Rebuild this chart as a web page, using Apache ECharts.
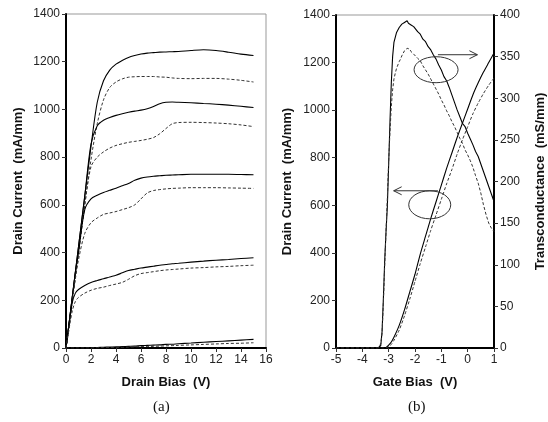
<!DOCTYPE html>
<html>
<head>
<meta charset="utf-8">
<script src="https://cdn.jsdelivr.net/npm/echarts@6.0.0/dist/echarts.min.js"></script>
<style>
  html, body { margin: 0; padding: 0; background: #fff; }
  #chart { width: 548px; height: 422px; }
</style>
</head>
<body>
<div id="chart"></div>
<script>
// ---- panel (a): drain current vs drain bias ----
var drainBias = [0, 0.25, 0.5, 0.75, 1, 1.5, 2, 2.5, 3, 3.5, 4, 4.5, 5, 5.5, 6, 6.5, 7, 7.5, 8, 8.5, 9, 10, 11, 12, 13, 14, 15];

var idA1Solid  = [0, 106, 212, 318, 424, 636, 845, 1030, 1120, 1165, 1190, 1205, 1218, 1226, 1232, 1236, 1238, 1240, 1241, 1242, 1243, 1247, 1250, 1247, 1240, 1232, 1226];
var idA1Dashed = [0, 100, 200, 300, 400, 600, 790, 940, 1040, 1092, 1115, 1128, 1135, 1137, 1138, 1138, 1138, 1136, 1135, 1132, 1130, 1129, 1130, 1130, 1127, 1122, 1115];
var idA2Solid  = [0, 106, 212, 318, 424, 636, 855, 932, 955, 966, 975, 982, 988, 993, 997, 1003, 1012, 1024, 1030, 1031, 1030, 1028, 1025, 1022, 1018, 1013, 1008];
var idA2Dashed = [0, 100, 200, 300, 400, 600, 760, 800, 822, 838, 849, 856, 862, 866, 870, 875, 882, 898, 920, 940, 945, 946, 945, 943, 940, 935, 928];
var idA3Solid  = [0, 105, 210, 315, 400, 580, 625, 640, 652, 661, 670, 680, 690, 703, 712, 717, 720, 722, 724, 725, 726, 728, 728, 728, 728, 727, 726];
var idA3Dashed = [0, 100, 195, 290, 370, 480, 525, 545, 560, 566, 572, 580, 588, 600, 625, 650, 660, 664, 667, 669, 670, 672, 672, 672, 671, 670, 669];
var idA4Solid  = [0, 100, 190, 230, 245, 262, 275, 283, 290, 298, 305, 315, 325, 330, 335, 339, 343, 347, 350, 353, 355, 360, 364, 368, 371, 375, 378];
var idA4Dashed = [0, 80, 155, 195, 212, 230, 242, 250, 255, 262, 268, 275, 288, 303, 312, 316, 320, 324, 327, 329, 331, 335, 337, 340, 342, 345, 347];
var idA5Solid  = [0, 0, 0, 0, 0, 0, 1, 2, 3, 4, 5, 6, 7, 8, 10, 11, 12, 13, 15, 16, 18, 21, 24, 27, 30, 33, 36];
var idA5Dashed = [0, 0, 0, 0, 0, 0, 0, 1, 2, 2, 3, 3, 4, 5, 6, 6, 7, 8, 9, 10, 11, 13, 15, 17, 19, 20, 22];

// ---- panel (b): drain current and transconductance vs gate bias ----
var gateBiasId = [-5, -3.2, -3.1, -3.0, -2.9, -2.8, -2.6, -2.4, -2.2, -2.0, -1.8, -1.6, -1.4, -1.2, -1.0, -0.8, -0.6, -0.4, -0.2, 0, 0.2, 0.4, 0.6, 0.8, 1.0];
var idBSolid  = [0, 0, 2, 12, 25, 45, 95, 160, 235, 310, 395, 470, 545, 615, 685, 755, 820, 885, 945, 1005, 1065, 1115, 1160, 1200, 1240];
var idBDashed = [0, 0, 0, 5, 15, 32, 75, 135, 205, 280, 355, 425, 495, 560, 625, 690, 750, 815, 875, 930, 985, 1030, 1070, 1105, 1135];

var gateBiasGm = [-5, -3.4, -3.3, -3.25, -3.2, -3.15, -3.1, -3.05, -3.0, -2.95, -2.9, -2.85, -2.8, -2.75, -2.7, -2.65, -2.6, -2.55, -2.5, -2.45,
  -2.4, -2.35, -2.3, -2.25, -2.2, -2.15, -2.1, -2.05, -2.0, -1.9, -1.8, -1.7, -1.6, -1.5, -1.4, -1.3, -1.2, -1.1, -1.0, -0.9,
  -0.8, -0.7, -0.6, -0.5, -0.4, -0.3, -0.2, -0.1, 0, 0.1, 0.2, 0.3, 0.4, 0.5, 0.6, 0.7, 0.8, 0.9, 1.0];
var gmSolid = [0, 0, 3, 20, 60, 105, 140, 170, 220, 272, 318, 350, 367, 373, 379, 381, 385, 384, 389, 387,
  391, 389, 393, 390, 392, 388, 390, 386, 385, 380, 377, 371, 368, 362, 358, 352, 347, 340, 334, 326,
  321, 313, 304, 295, 286, 278, 270, 266, 258, 251, 244, 236, 230, 221, 212, 203, 194, 185, 176];
var gmDashed = [0, 0, 5, 18, 55, 100, 140, 180, 225, 260, 290, 310, 323, 330, 336, 340, 344, 347, 351, 354,
  357, 356, 360, 358, 359, 356, 357, 353, 352, 348, 345, 339, 334, 329, 323, 317, 311, 305, 298, 292,
  285, 279, 272, 266, 259, 252, 246, 238, 232, 225, 217, 207, 198, 186, 172, 160, 150, 144, 140];

function pairs(xs, ys) {
    var out = [];
    for (var i = 0; i < xs.length; i++) out.push([xs[i], ys[i]]);
    return out;
}

var FONT = 'Liberation Sans';
var labelStyle = { fontSize: 12, color: '#222', fontFamily: FONT };
var nameStyle = { fontSize: 13, fontWeight: 'bold', color: '#111', fontFamily: FONT };

function axisBase(extra) {
    var a = {
        type: 'value',
        axisLine: { show: true, onZero: false, lineStyle: { color: '#000', width: 2 } },
        axisTick: { show: true, inside: false, length: 4, lineStyle: { color: '#333' } },
        axisLabel: Object.assign({ margin: 6, formatter: function (v) { return String(v); } }, labelStyle),
        splitLine: { show: false },
        nameLocation: 'middle',
        nameTextStyle: nameStyle
    };
    return Object.assign(a, extra);
}

function curve(name, xs, ys, x, y, dashed, smooth) {
    return {
        name: name,
        type: 'line',
        xAxisIndex: x,
        yAxisIndex: y,
        data: pairs(xs, ys),
        smooth: smooth,
        symbol: 'none',
        animation: false,
        lineStyle: dashed
            ? { color: '#333', width: 1, type: [3, 2] }
            : { color: '#000', width: 1.1 }
    };
}

var chart = echarts.init(document.getElementById('chart'), null, { renderer: 'canvas' });

var option = {
    backgroundColor: '#fff',
    animation: false,
    grid: [
        { left: 66, top: 14, width: 200, height: 334, show: true, borderColor: '#999', borderWidth: 1 },
        { left: 336, top: 15, width: 160, height: 333, show: true, borderColor: '#999', borderWidth: 1 }
    ],
    xAxis: [
        axisBase({ gridIndex: 0, min: 0, max: 16, interval: 2, name: 'Drain Bias  (V)', nameGap: 28 }),
        axisBase({ gridIndex: 1, min: -5, max: 1, interval: 1, name: 'Gate Bias  (V)', nameGap: 28 })
    ],
    yAxis: [
        axisBase({ gridIndex: 0, min: 0, max: 1400, interval: 200, name: 'Drain Current  (mA/mm)', nameGap: 41 }),
        axisBase({ gridIndex: 1, min: 0, max: 1400, interval: 200, name: 'Drain Current  (mA/mm)', nameGap: 42 }),
        axisBase({ gridIndex: 1, min: 0, max: 400, interval: 50, position: 'right', name: 'Transconductance  (mS/mm)',
            nameGap: 40, nameRotate: 90 })
    ],
    series: [
        curve('a1s', drainBias, idA1Solid, 0, 0, false, 0.3),
        curve('a1d', drainBias, idA1Dashed, 0, 0, true, 0.3),
        curve('a2s', drainBias, idA2Solid, 0, 0, false, 0.3),
        curve('a2d', drainBias, idA2Dashed, 0, 0, true, 0.3),
        curve('a3s', drainBias, idA3Solid, 0, 0, false, 0.3),
        curve('a3d', drainBias, idA3Dashed, 0, 0, true, 0.3),
        curve('a4s', drainBias, idA4Solid, 0, 0, false, 0.3),
        curve('a4d', drainBias, idA4Dashed, 0, 0, true, 0.3),
        curve('a5s', drainBias, idA5Solid, 0, 0, false, 0.3),
        curve('a5d', drainBias, idA5Dashed, 0, 0, true, 0.3),
        curve('idS', gateBiasId, idBSolid, 1, 1, false, 0.2),
        curve('idD', gateBiasId, idBDashed, 1, 1, true, 0.2),
        curve('gmS', gateBiasGm, gmSolid, 1, 2, false, false),
        curve('gmD', gateBiasGm, gmDashed, 1, 2, true, false)
    ]
};
chart.setOption(option);

// annotations (ellipses + arrows) anchored in panel (b) data space
function px(v, i) {
    return chart.convertToPixel({ xAxisIndex: 1, yAxisIndex: 1 }, [v, i]);
}
var ann = { stroke: '#333', lineWidth: 1, fill: null };
var c1 = px(-1.20, 1170), c2 = px(-1.44, 602);
var a1s = px(-1.13, 1233), a1e = px(0.37, 1233);
var a2s = px(-1.13, 661), a2e = px(-2.81, 661);

chart.setOption({
    graphic: [
        { type: 'ellipse', shape: { cx: c1[0], cy: c1[1], rx: 22, ry: 13 }, style: ann, z: 100 },
        { type: 'ellipse', shape: { cx: c2[0], cy: c2[1], rx: 21, ry: 14 }, style: ann, z: 100 },
        { type: 'line', shape: { x1: a1s[0], y1: a1s[1], x2: a1e[0], y2: a1e[1] }, style: ann, z: 100 },
        { type: 'polyline', shape: { points: [[a1e[0] - 8, a1e[1] - 4], [a1e[0], a1e[1]], [a1e[0] - 8, a1e[1] + 4]] }, style: ann, z: 100 },
        { type: 'line', shape: { x1: a2s[0], y1: a2s[1], x2: a2e[0], y2: a2e[1] }, style: ann, z: 100 },
        { type: 'polyline', shape: { points: [[a2e[0] + 8, a2e[1] - 4], [a2e[0], a2e[1]], [a2e[0] + 8, a2e[1] + 4]] }, style: ann, z: 100 },
        { type: 'text', left: 153, top: 400, style: { text: '(a)', fontSize: 15, fontFamily: 'Liberation Serif', fill: '#111' } },
        { type: 'text', left: 408, top: 400, style: { text: '(b)', fontSize: 15, fontFamily: 'Liberation Serif', fill: '#111' } }
    ]
});
</script>
</body>
</html>
